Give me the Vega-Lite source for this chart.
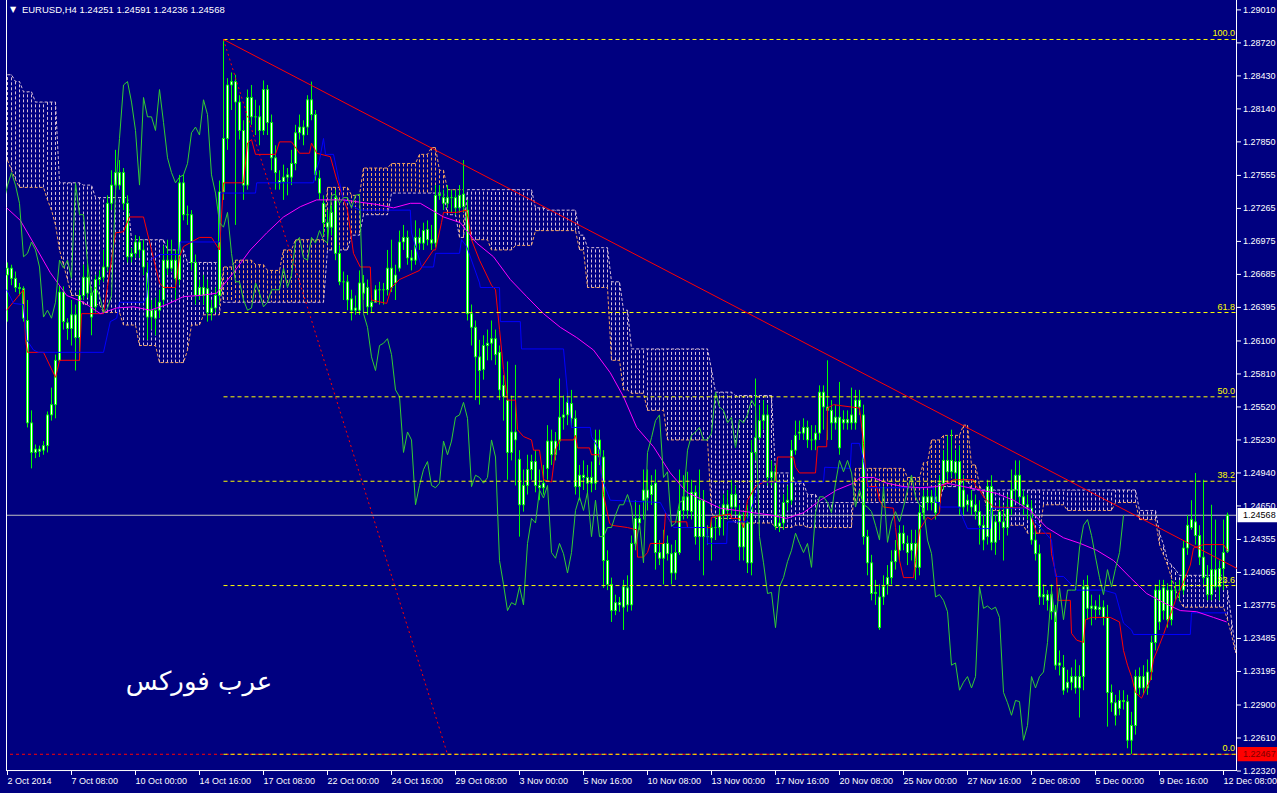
{
"$schema":"https://vega.github.io/schema/vega-lite/v6.json",
"width":1231,"height":771,
"autosize":{"type":"none"},
"padding":{"left":6,"top":0,"right":40,"bottom":22},
"background":"#000080",
"config":{"view":{"stroke":null},"font":"Liberation Sans"},
"datasets":{
"bars":[
{"k":1,"o":1.2668,"h":1.2679,"l":1.2627,"c":1.2674},
{"k":2,"o":1.2674,"h":1.2677,"l":1.2659,"c":1.2665},
{"k":3,"o":1.2665,"h":1.2671,"l":1.2653,"c":1.2657},
{"k":4,"o":1.2657,"h":1.2661,"l":1.2650,"c":1.2656},
{"k":5,"o":1.2656,"h":1.2658,"l":1.2627,"c":1.2630},
{"k":6,"o":1.2628,"h":1.2646,"l":1.2534,"c":1.2538},
{"k":7,"o":1.2538,"h":1.2549,"l":1.2498,"c":1.2512},
{"k":8,"o":1.2512,"h":1.2519,"l":1.2507,"c":1.2515},
{"k":9,"o":1.2515,"h":1.2518,"l":1.2508,"c":1.2513},
{"k":10,"o":1.2514,"h":1.2522,"l":1.2510,"c":1.2518},
{"k":11,"o":1.2518,"h":1.2548,"l":1.2512,"c":1.2545},
{"k":12,"o":1.2545,"h":1.2569,"l":1.2540,"c":1.2554},
{"k":13,"o":1.2554,"h":1.2598,"l":1.2542,"c":1.2593},
{"k":14,"o":1.2593,"h":1.2659,"l":1.2592,"c":1.2653},
{"k":15,"o":1.2653,"h":1.2658,"l":1.2620,"c":1.2627},
{"k":16,"o":1.2626,"h":1.2630,"l":1.2611,"c":1.2621},
{"k":17,"o":1.2621,"h":1.2646,"l":1.2606,"c":1.2633},
{"k":18,"o":1.2633,"h":1.2642,"l":1.2584,"c":1.2613},
{"k":19,"o":1.2613,"h":1.2655,"l":1.2593,"c":1.2650},
{"k":20,"o":1.2650,"h":1.2677,"l":1.2646,"c":1.2666},
{"k":21,"o":1.2666,"h":1.2679,"l":1.2648,"c":1.2652},
{"k":22,"o":1.2652,"h":1.2657,"l":1.2615,"c":1.2631},
{"k":23,"o":1.2640,"h":1.2668,"l":1.2635,"c":1.2664},
{"k":24,"o":1.2664,"h":1.2672,"l":1.2659,"c":1.2666},
{"k":25,"o":1.2666,"h":1.2690,"l":1.2662,"c":1.2675},
{"k":26,"o":1.2675,"h":1.2738,"l":1.2671,"c":1.2731},
{"k":27,"o":1.2731,"h":1.2760,"l":1.2725,"c":1.2747},
{"k":28,"o":1.2747,"h":1.2778,"l":1.2743,"c":1.2758},
{"k":29,"o":1.2758,"h":1.2769,"l":1.2743,"c":1.2747},
{"k":30,"o":1.2758,"h":1.2762,"l":1.2725,"c":1.2731},
{"k":31,"o":1.2731,"h":1.2738,"l":1.2679,"c":1.2684},
{"k":32,"o":1.2684,"h":1.2692,"l":1.2679,"c":1.2687},
{"k":33,"o":1.2687,"h":1.2703,"l":1.2683,"c":1.2697},
{"k":34,"o":1.2697,"h":1.2702,"l":1.2683,"c":1.2690},
{"k":35,"o":1.2690,"h":1.2699,"l":1.2668,"c":1.2675},
{"k":36,"o":1.2670,"h":1.2679,"l":1.2611,"c":1.2631},
{"k":37,"o":1.2631,"h":1.2646,"l":1.2620,"c":1.2637},
{"k":38,"o":1.2637,"h":1.2648,"l":1.2615,"c":1.2630},
{"k":39,"o":1.2637,"h":1.2655,"l":1.2630,"c":1.2644},
{"k":40,"o":1.2646,"h":1.2694,"l":1.2642,"c":1.2681},
{"k":41,"o":1.2681,"h":1.2699,"l":1.2668,"c":1.2674},
{"k":42,"o":1.2674,"h":1.2699,"l":1.2671,"c":1.2681},
{"k":43,"o":1.2681,"h":1.2690,"l":1.2646,"c":1.2665},
{"k":44,"o":1.2664,"h":1.2756,"l":1.2659,"c":1.2749},
{"k":45,"o":1.2749,"h":1.2756,"l":1.2716,"c":1.2721},
{"k":46,"o":1.2721,"h":1.2729,"l":1.2712,"c":1.2721},
{"k":47,"o":1.2721,"h":1.2725,"l":1.2672,"c":1.2679},
{"k":48,"o":1.2679,"h":1.2686,"l":1.2642,"c":1.2650},
{"k":49,"o":1.2650,"h":1.2664,"l":1.2646,"c":1.2657},
{"k":50,"o":1.2657,"h":1.2668,"l":1.2642,"c":1.2650},
{"k":51,"o":1.2656,"h":1.2664,"l":1.2627,"c":1.2635},
{"k":52,"o":1.2635,"h":1.2646,"l":1.2628,"c":1.2639},
{"k":53,"o":1.2639,"h":1.2657,"l":1.2635,"c":1.2650},
{"k":54,"o":1.2650,"h":1.2751,"l":1.2642,"c":1.2741},
{"k":55,"o":1.2741,"h":1.2875,"l":1.2734,"c":1.2788},
{"k":56,"o":1.2788,"h":1.2841,"l":1.2778,"c":1.2835},
{"k":57,"o":1.2835,"h":1.2846,"l":1.2813,"c":1.2838},
{"k":58,"o":1.2838,"h":1.2844,"l":1.2712,"c":1.2820},
{"k":59,"o":1.2820,"h":1.2826,"l":1.2787,"c":1.2795},
{"k":60,"o":1.2795,"h":1.2804,"l":1.2734,"c":1.2747},
{"k":61,"o":1.2747,"h":1.2831,"l":1.2743,"c":1.2824},
{"k":62,"o":1.2824,"h":1.2835,"l":1.2800,"c":1.2807},
{"k":63,"o":1.2807,"h":1.2822,"l":1.2791,"c":1.2807},
{"k":64,"o":1.2807,"h":1.2817,"l":1.2782,"c":1.2795},
{"k":65,"o":1.2795,"h":1.2839,"l":1.2791,"c":1.2831},
{"k":66,"o":1.2831,"h":1.2835,"l":1.2791,"c":1.2802},
{"k":67,"o":1.2802,"h":1.2809,"l":1.2760,"c":1.2771},
{"k":68,"o":1.2771,"h":1.2782,"l":1.2743,"c":1.2758},
{"k":69,"o":1.2751,"h":1.2760,"l":1.2743,"c":1.2749},
{"k":70,"o":1.2750,"h":1.2765,"l":1.2734,"c":1.2754},
{"k":71,"o":1.2754,"h":1.2762,"l":1.2738,"c":1.2756},
{"k":72,"o":1.2754,"h":1.2778,"l":1.2747,"c":1.2766},
{"k":73,"o":1.2766,"h":1.2800,"l":1.2760,"c":1.2793},
{"k":74,"o":1.2793,"h":1.2809,"l":1.2787,"c":1.2798},
{"k":75,"o":1.2798,"h":1.2804,"l":1.2782,"c":1.2791},
{"k":76,"o":1.2798,"h":1.2826,"l":1.2791,"c":1.2822},
{"k":77,"o":1.2822,"h":1.2838,"l":1.2804,"c":1.2809},
{"k":78,"o":1.2809,"h":1.2813,"l":1.2751,"c":1.2756},
{"k":79,"o":1.2753,"h":1.2760,"l":1.2734,"c":1.2740},
{"k":80,"o":1.2731,"h":1.2738,"l":1.2703,"c":1.2714},
{"k":81,"o":1.2714,"h":1.2725,"l":1.2699,"c":1.2710},
{"k":82,"o":1.2710,"h":1.2729,"l":1.2703,"c":1.2723},
{"k":83,"o":1.2736,"h":1.2743,"l":1.2681,"c":1.2687},
{"k":84,"o":1.2687,"h":1.2694,"l":1.2659,"c":1.2662},
{"k":85,"o":1.2662,"h":1.2671,"l":1.2646,"c":1.2662},
{"k":86,"o":1.2662,"h":1.2668,"l":1.2637,"c":1.2646},
{"k":87,"o":1.2647,"h":1.2655,"l":1.2628,"c":1.2637},
{"k":88,"o":1.2637,"h":1.2650,"l":1.2633,"c":1.2639},
{"k":89,"o":1.2637,"h":1.2672,"l":1.2633,"c":1.2661},
{"k":90,"o":1.2661,"h":1.2668,"l":1.2646,"c":1.2652},
{"k":91,"o":1.2657,"h":1.2664,"l":1.2633,"c":1.2640},
{"k":92,"o":1.2640,"h":1.2650,"l":1.2635,"c":1.2644},
{"k":93,"o":1.2644,"h":1.2659,"l":1.2646,"c":1.2655},
{"k":94,"o":1.2655,"h":1.2662,"l":1.2642,"c":1.2655},
{"k":95,"o":1.2655,"h":1.2661,"l":1.2642,"c":1.2655},
{"k":96,"o":1.2655,"h":1.2690,"l":1.2650,"c":1.2674},
{"k":97,"o":1.2674,"h":1.2699,"l":1.2653,"c":1.2657},
{"k":98,"o":1.2661,"h":1.2677,"l":1.2646,"c":1.2668},
{"k":99,"o":1.2674,"h":1.2707,"l":1.2671,"c":1.2697},
{"k":100,"o":1.2697,"h":1.2712,"l":1.2690,"c":1.2701},
{"k":101,"o":1.2701,"h":1.2707,"l":1.2677,"c":1.2683},
{"k":102,"o":1.2683,"h":1.2690,"l":1.2672,"c":1.2681},
{"k":103,"o":1.2681,"h":1.2716,"l":1.2677,"c":1.2701},
{"k":104,"o":1.2701,"h":1.2709,"l":1.2690,"c":1.2696},
{"k":105,"o":1.2696,"h":1.2714,"l":1.2690,"c":1.2707},
{"k":106,"o":1.2708,"h":1.2716,"l":1.2694,"c":1.2699},
{"k":107,"o":1.2699,"h":1.2712,"l":1.2690,"c":1.2696},
{"k":108,"o":1.2696,"h":1.2747,"l":1.2692,"c":1.2738},
{"k":109,"o":1.2738,"h":1.2747,"l":1.2734,"c":1.2739},
{"k":110,"o":1.2736,"h":1.2743,"l":1.2725,"c":1.2731},
{"k":111,"o":1.2731,"h":1.2747,"l":1.2727,"c":1.2736},
{"k":112,"o":1.2736,"h":1.2743,"l":1.2723,"c":1.2736},
{"k":113,"o":1.2736,"h":1.2743,"l":1.2721,"c":1.2727},
{"k":114,"o":1.2727,"h":1.2747,"l":1.2723,"c":1.2738},
{"k":115,"o":1.2728,"h":1.2769,"l":1.2723,"c":1.2739},
{"k":116,"o":1.2725,"h":1.2734,"l":1.2628,"c":1.2634},
{"k":117,"o":1.2634,"h":1.2642,"l":1.2606,"c":1.2622},
{"k":118,"o":1.2622,"h":1.2628,"l":1.2558,"c":1.2596},
{"k":119,"o":1.2596,"h":1.2611,"l":1.2554,"c":1.2584},
{"k":120,"o":1.2585,"h":1.2615,"l":1.2576,"c":1.2606},
{"k":121,"o":1.2606,"h":1.2620,"l":1.2593,"c":1.2608},
{"k":122,"o":1.2608,"h":1.2628,"l":1.2593,"c":1.2612},
{"k":123,"o":1.2612,"h":1.2620,"l":1.2589,"c":1.2598},
{"k":124,"o":1.2600,"h":1.2606,"l":1.2558,"c":1.2567},
{"k":125,"o":1.2571,"h":1.2580,"l":1.2540,"c":1.2561},
{"k":126,"o":1.2558,"h":1.2592,"l":1.2488,"c":1.2512},
{"k":127,"o":1.2512,"h":1.2562,"l":1.2505,"c":1.2530},
{"k":128,"o":1.2530,"h":1.2589,"l":1.2483,"c":1.2523},
{"k":129,"o":1.2506,"h":1.2514,"l":1.2438,"c":1.2466},
{"k":130,"o":1.2466,"h":1.2497,"l":1.2460,"c":1.2483},
{"k":131,"o":1.2483,"h":1.2510,"l":1.2475,"c":1.2497},
{"k":132,"o":1.2497,"h":1.2510,"l":1.2488,"c":1.2504},
{"k":133,"o":1.2504,"h":1.2514,"l":1.2477,"c":1.2483},
{"k":134,"o":1.2483,"h":1.2497,"l":1.2470,"c":1.2481},
{"k":135,"o":1.2481,"h":1.2501,"l":1.2475,"c":1.2485},
{"k":136,"o":1.2498,"h":1.2536,"l":1.2488,"c":1.2522},
{"k":137,"o":1.2522,"h":1.2532,"l":1.2501,"c":1.2510},
{"k":138,"o":1.2510,"h":1.2530,"l":1.2505,"c":1.2522},
{"k":139,"o":1.2522,"h":1.2577,"l":1.2514,"c":1.2543},
{"k":140,"o":1.2543,"h":1.2562,"l":1.2532,"c":1.2545},
{"k":141,"o":1.2545,"h":1.2565,"l":1.2536,"c":1.2556},
{"k":142,"o":1.2555,"h":1.2567,"l":1.2534,"c":1.2542},
{"k":143,"o":1.2542,"h":1.2549,"l":1.2475,"c":1.2482},
{"k":144,"o":1.2482,"h":1.2501,"l":1.2470,"c":1.2492},
{"k":145,"o":1.2492,"h":1.2505,"l":1.2479,"c":1.2490},
{"k":146,"o":1.2490,"h":1.2501,"l":1.2475,"c":1.2485},
{"k":147,"o":1.2485,"h":1.2504,"l":1.2477,"c":1.2490},
{"k":148,"o":1.2485,"h":1.2532,"l":1.2479,"c":1.2523},
{"k":149,"o":1.2523,"h":1.2532,"l":1.2501,"c":1.2508},
{"k":150,"o":1.2508,"h":1.2514,"l":1.2393,"c":1.2417},
{"k":151,"o":1.2417,"h":1.2426,"l":1.2391,"c":1.2396},
{"k":152,"o":1.2396,"h":1.2402,"l":1.2363,"c":1.2373},
{"k":153,"o":1.2373,"h":1.2387,"l":1.2369,"c":1.2380},
{"k":154,"o":1.2380,"h":1.2385,"l":1.2372,"c":1.2378},
{"k":155,"o":1.2376,"h":1.2400,"l":1.2356,"c":1.2394},
{"k":156,"o":1.2393,"h":1.2404,"l":1.2372,"c":1.2378},
{"k":157,"o":1.2378,"h":1.2439,"l":1.2373,"c":1.2432},
{"k":158,"o":1.2432,"h":1.2470,"l":1.2426,"c":1.2454},
{"k":159,"o":1.2454,"h":1.2466,"l":1.2444,"c":1.2450},
{"k":160,"o":1.2470,"h":1.2497,"l":1.2453,"c":1.2479},
{"k":161,"o":1.2479,"h":1.2497,"l":1.2461,"c":1.2472},
{"k":162,"o":1.2475,"h":1.2492,"l":1.2466,"c":1.2483},
{"k":163,"o":1.2485,"h":1.2497,"l":1.2409,"c":1.2424},
{"k":164,"o":1.2424,"h":1.2435,"l":1.2413,"c":1.2419},
{"k":165,"o":1.2419,"h":1.2444,"l":1.2396,"c":1.2432},
{"k":166,"o":1.2432,"h":1.2439,"l":1.2417,"c":1.2423},
{"k":167,"o":1.2423,"h":1.2431,"l":1.2396,"c":1.2406},
{"k":168,"o":1.2406,"h":1.2435,"l":1.2400,"c":1.2424},
{"k":169,"o":1.2424,"h":1.2497,"l":1.2422,"c":1.2461},
{"k":170,"o":1.2461,"h":1.2492,"l":1.2453,"c":1.2473},
{"k":171,"o":1.2473,"h":1.2495,"l":1.2454,"c":1.2461},
{"k":172,"o":1.2460,"h":1.2488,"l":1.2453,"c":1.2477},
{"k":173,"o":1.2477,"h":1.2483,"l":1.2431,"c":1.2438},
{"k":174,"o":1.2438,"h":1.2497,"l":1.2417,"c":1.2470},
{"k":175,"o":1.2470,"h":1.2479,"l":1.2404,"c":1.2438},
{"k":176,"o":1.2438,"h":1.2448,"l":1.2431,"c":1.2438},
{"k":177,"o":1.2437,"h":1.2453,"l":1.2417,"c":1.2446},
{"k":178,"o":1.2446,"h":1.2457,"l":1.2435,"c":1.2446},
{"k":179,"o":1.2446,"h":1.2466,"l":1.2439,"c":1.2457},
{"k":180,"o":1.2457,"h":1.2475,"l":1.2439,"c":1.2466},
{"k":181,"o":1.2461,"h":1.2479,"l":1.2453,"c":1.2466},
{"k":182,"o":1.2464,"h":1.2488,"l":1.2457,"c":1.2475},
{"k":183,"o":1.2475,"h":1.2483,"l":1.2457,"c":1.2464},
{"k":184,"o":1.2457,"h":1.2466,"l":1.2417,"c":1.2429},
{"k":185,"o":1.2429,"h":1.2461,"l":1.2417,"c":1.2450},
{"k":186,"o":1.2450,"h":1.2466,"l":1.2406,"c":1.2415},
{"k":187,"o":1.2415,"h":1.2523,"l":1.2404,"c":1.2512},
{"k":188,"o":1.2512,"h":1.2577,"l":1.2505,"c":1.2525},
{"k":189,"o":1.2525,"h":1.2554,"l":1.2523,"c":1.2540},
{"k":190,"o":1.2540,"h":1.2558,"l":1.2532,"c":1.2545},
{"k":191,"o":1.2545,"h":1.2554,"l":1.2483,"c":1.2490},
{"k":192,"o":1.2490,"h":1.2505,"l":1.2483,"c":1.2495},
{"k":193,"o":1.2495,"h":1.2501,"l":1.2444,"c":1.2447},
{"k":194,"o":1.2447,"h":1.2457,"l":1.2442,"c":1.2450},
{"k":195,"o":1.2450,"h":1.2475,"l":1.2444,"c":1.2468},
{"k":196,"o":1.2468,"h":1.2483,"l":1.2461,"c":1.2470},
{"k":197,"o":1.2470,"h":1.2523,"l":1.2466,"c":1.2514},
{"k":198,"o":1.2514,"h":1.2540,"l":1.2510,"c":1.2527},
{"k":199,"o":1.2529,"h":1.2540,"l":1.2523,"c":1.2530},
{"k":200,"o":1.2529,"h":1.2542,"l":1.2523,"c":1.2534},
{"k":201,"o":1.2534,"h":1.2540,"l":1.2516,"c":1.2523},
{"k":202,"o":1.2523,"h":1.2536,"l":1.2514,"c":1.2523},
{"k":203,"o":1.2523,"h":1.2536,"l":1.2514,"c":1.2529},
{"k":204,"o":1.2529,"h":1.2571,"l":1.2523,"c":1.2565},
{"k":205,"o":1.2565,"h":1.2571,"l":1.2532,"c":1.2552},
{"k":206,"o":1.2552,"h":1.2593,"l":1.2523,"c":1.2549},
{"k":207,"o":1.2549,"h":1.2558,"l":1.2523,"c":1.2538},
{"k":208,"o":1.2538,"h":1.2554,"l":1.2532,"c":1.2543},
{"k":209,"o":1.2543,"h":1.2574,"l":1.2510,"c":1.2516},
{"k":210,"o":1.2538,"h":1.2549,"l":1.2532,"c":1.2541},
{"k":211,"o":1.2541,"h":1.2549,"l":1.2532,"c":1.2538},
{"k":212,"o":1.2538,"h":1.2569,"l":1.2532,"c":1.2545},
{"k":213,"o":1.2538,"h":1.2567,"l":1.2532,"c":1.2558},
{"k":214,"o":1.2558,"h":1.2567,"l":1.2545,"c":1.2552},
{"k":215,"o":1.2545,"h":1.2554,"l":1.2431,"c":1.2438},
{"k":216,"o":1.2438,"h":1.2444,"l":1.2404,"c":1.2415},
{"k":217,"o":1.2415,"h":1.2422,"l":1.2382,"c":1.2388},
{"k":218,"o":1.2388,"h":1.2400,"l":1.2378,"c":1.2389},
{"k":219,"o":1.2385,"h":1.2396,"l":1.2356,"c":1.2358},
{"k":220,"o":1.2385,"h":1.2404,"l":1.2378,"c":1.2394},
{"k":221,"o":1.2396,"h":1.2413,"l":1.2387,"c":1.2402},
{"k":222,"o":1.2402,"h":1.2426,"l":1.2396,"c":1.2416},
{"k":223,"o":1.2416,"h":1.2435,"l":1.2409,"c":1.2426},
{"k":224,"o":1.2426,"h":1.2448,"l":1.2417,"c":1.2441},
{"k":225,"o":1.2441,"h":1.2448,"l":1.2426,"c":1.2432},
{"k":226,"o":1.2432,"h":1.2439,"l":1.2413,"c":1.2424},
{"k":227,"o":1.2426,"h":1.2444,"l":1.2417,"c":1.2432},
{"k":228,"o":1.2432,"h":1.2444,"l":1.2400,"c":1.2411},
{"k":229,"o":1.2411,"h":1.2466,"l":1.2404,"c":1.2459},
{"k":230,"o":1.2459,"h":1.2479,"l":1.2453,"c":1.2473},
{"k":231,"o":1.2468,"h":1.2479,"l":1.2461,"c":1.2473},
{"k":232,"o":1.2473,"h":1.2479,"l":1.2461,"c":1.2468},
{"k":233,"o":1.2473,"h":1.2481,"l":1.2453,"c":1.2459},
{"k":234,"o":1.2468,"h":1.2492,"l":1.2461,"c":1.2485},
{"k":235,"o":1.2485,"h":1.2514,"l":1.2479,"c":1.2505},
{"k":236,"o":1.2505,"h":1.2527,"l":1.2488,"c":1.2495},
{"k":237,"o":1.2495,"h":1.2532,"l":1.2490,"c":1.2505},
{"k":238,"o":1.2504,"h":1.2514,"l":1.2488,"c":1.2494},
{"k":239,"o":1.2504,"h":1.2518,"l":1.2457,"c":1.2464},
{"k":240,"o":1.2464,"h":1.2492,"l":1.2457,"c":1.2479},
{"k":241,"o":1.2470,"h":1.2475,"l":1.2460,"c":1.2466},
{"k":242,"o":1.2470,"h":1.2479,"l":1.2457,"c":1.2464},
{"k":243,"o":1.2466,"h":1.2475,"l":1.2453,"c":1.2460},
{"k":244,"o":1.2460,"h":1.2470,"l":1.2431,"c":1.2448},
{"k":245,"o":1.2448,"h":1.2457,"l":1.2426,"c":1.2435},
{"k":246,"o":1.2438,"h":1.2488,"l":1.2431,"c":1.2482},
{"k":247,"o":1.2482,"h":1.2492,"l":1.2426,"c":1.2433},
{"k":248,"o":1.2433,"h":1.2457,"l":1.2422,"c":1.2451},
{"k":249,"o":1.2451,"h":1.2470,"l":1.2435,"c":1.2460},
{"k":250,"o":1.2446,"h":1.2466,"l":1.2417,"c":1.2451},
{"k":251,"o":1.2446,"h":1.2475,"l":1.2439,"c":1.2464},
{"k":252,"o":1.2464,"h":1.2497,"l":1.2457,"c":1.2479},
{"k":253,"o":1.2479,"h":1.2505,"l":1.2470,"c":1.2492},
{"k":254,"o":1.2492,"h":1.2505,"l":1.2466,"c":1.2473},
{"k":255,"o":1.2473,"h":1.2479,"l":1.2457,"c":1.2466},
{"k":256,"o":1.2466,"h":1.2475,"l":1.2453,"c":1.2463},
{"k":257,"o":1.2463,"h":1.2470,"l":1.2431,"c":1.2435},
{"k":258,"o":1.2435,"h":1.2444,"l":1.2417,"c":1.2423},
{"k":259,"o":1.2423,"h":1.2431,"l":1.2378,"c":1.2385},
{"k":260,"o":1.2385,"h":1.2396,"l":1.2378,"c":1.2387},
{"k":261,"o":1.2387,"h":1.2391,"l":1.2373,"c":1.2382},
{"k":262,"o":1.2387,"h":1.2396,"l":1.2365,"c":1.2372},
{"k":263,"o":1.2372,"h":1.2378,"l":1.2321,"c":1.2325},
{"k":264,"o":1.2325,"h":1.2338,"l":1.2316,"c":1.2327},
{"k":265,"o":1.2323,"h":1.2334,"l":1.2299,"c":1.2303},
{"k":266,"o":1.2305,"h":1.2321,"l":1.2301,"c":1.2310},
{"k":267,"o":1.2310,"h":1.2323,"l":1.2303,"c":1.2315},
{"k":268,"o":1.2315,"h":1.2330,"l":1.2300,"c":1.2305},
{"k":269,"o":1.2305,"h":1.2325,"l":1.2279,"c":1.2315},
{"k":270,"o":1.2315,"h":1.2400,"l":1.2303,"c":1.2394},
{"k":271,"o":1.2394,"h":1.2404,"l":1.2365,"c":1.2375},
{"k":272,"o":1.2375,"h":1.2387,"l":1.2360,"c":1.2377},
{"k":273,"o":1.2377,"h":1.2382,"l":1.2365,"c":1.2374},
{"k":274,"o":1.2374,"h":1.2387,"l":1.2369,"c":1.2376},
{"k":275,"o":1.2376,"h":1.2382,"l":1.2360,"c":1.2367},
{"k":276,"o":1.2367,"h":1.2378,"l":1.2271,"c":1.2301},
{"k":277,"o":1.2301,"h":1.2308,"l":1.2284,"c":1.2292},
{"k":278,"o":1.2292,"h":1.2299,"l":1.2272,"c":1.2281},
{"k":279,"o":1.2287,"h":1.2303,"l":1.2281,"c":1.2294},
{"k":280,"o":1.2294,"h":1.2303,"l":1.2286,"c":1.2293},
{"k":281,"o":1.2293,"h":1.2299,"l":1.2252,"c":1.2259},
{"k":282,"o":1.2259,"h":1.2284,"l":1.2247,"c":1.2272},
{"k":283,"o":1.2272,"h":1.2321,"l":1.2264,"c":1.2315},
{"k":284,"o":1.2315,"h":1.2323,"l":1.2299,"c":1.2305},
{"k":285,"o":1.2305,"h":1.2325,"l":1.2299,"c":1.2315},
{"k":286,"o":1.2305,"h":1.2330,"l":1.2299,"c":1.2319},
{"k":287,"o":1.2319,"h":1.2351,"l":1.2312,"c":1.2345},
{"k":288,"o":1.2345,"h":1.2396,"l":1.2338,"c":1.2391},
{"k":289,"o":1.2391,"h":1.2400,"l":1.2356,"c":1.2363},
{"k":290,"o":1.2373,"h":1.2400,"l":1.2365,"c":1.2393},
{"k":291,"o":1.2391,"h":1.2397,"l":1.2358,"c":1.2365},
{"k":292,"o":1.2365,"h":1.2400,"l":1.2360,"c":1.2391},
{"k":293,"o":1.2391,"h":1.2398,"l":1.2382,"c":1.2391},
{"k":294,"o":1.2391,"h":1.2400,"l":1.2382,"c":1.2391},
{"k":295,"o":1.2391,"h":1.2435,"l":1.2387,"c":1.2428},
{"k":296,"o":1.2428,"h":1.2457,"l":1.2422,"c":1.2448},
{"k":297,"o":1.2446,"h":1.2470,"l":1.2444,"c":1.2453},
{"k":298,"o":1.2451,"h":1.2494,"l":1.2431,"c":1.2439},
{"k":299,"o":1.2439,"h":1.2448,"l":1.2413,"c":1.2420},
{"k":300,"o":1.2420,"h":1.2488,"l":1.2396,"c":1.2402},
{"k":301,"o":1.2402,"h":1.2413,"l":1.2382,"c":1.2387},
{"k":302,"o":1.2387,"h":1.2466,"l":1.2382,"c":1.2409},
{"k":303,"o":1.2409,"h":1.2453,"l":1.2391,"c":1.2394},
{"k":304,"o":1.2394,"h":1.2417,"l":1.2382,"c":1.2410},
{"k":305,"o":1.2410,"h":1.2453,"l":1.2391,"c":1.2424},
{"k":306,"o":1.24251,"h":1.24591,"l":1.24236,"c":1.24568}
],
"kumo":[
{"k":1,"a":1.2769,"b":1.2844},{"k":2,"a":1.2760,"b":1.2844},{"k":3,"a":1.2752,"b":1.2838},{"k":4,"a":1.2745,"b":1.2838},
{"k":5,"a":1.2745,"b":1.2829},{"k":6,"a":1.2745,"b":1.2829},{"k":7,"a":1.2745,"b":1.2829},{"k":8,"a":1.2745,"b":1.2820},
{"k":9,"a":1.2745,"b":1.2820},{"k":10,"a":1.2745,"b":1.2820},{"k":11,"a":1.2734,"b":1.2820},{"k":12,"a":1.2725,"b":1.2820},
{"k":13,"a":1.2712,"b":1.2820},{"k":14,"a":1.2690,"b":1.2749},{"k":15,"a":1.2677,"b":1.2749},{"k":16,"a":1.2664,"b":1.2749},
{"k":17,"a":1.2650,"b":1.2749},{"k":18,"a":1.2650,"b":1.2749},{"k":19,"a":1.2650,"b":1.2749},{"k":20,"a":1.2642,"b":1.2747},
{"k":21,"a":1.2642,"b":1.2747},{"k":22,"a":1.2642,"b":1.2747},{"k":23,"a":1.2642,"b":1.2736},{"k":24,"a":1.2642,"b":1.2736},
{"k":25,"a":1.2635,"b":1.2736},{"k":26,"a":1.2635,"b":1.2736},{"k":27,"a":1.2635,"b":1.2736},{"k":28,"a":1.2635,"b":1.2736},
{"k":29,"a":1.2635,"b":1.2736},{"k":30,"a":1.2624,"b":1.2736},{"k":31,"a":1.2624,"b":1.2736},{"k":32,"a":1.2624,"b":1.2699},
{"k":33,"a":1.2624,"b":1.2699},{"k":34,"a":1.2606,"b":1.2699},{"k":35,"a":1.2606,"b":1.2699},{"k":36,"a":1.2606,"b":1.2699},
{"k":37,"a":1.2606,"b":1.2699},{"k":38,"a":1.2606,"b":1.2699},{"k":39,"a":1.2591,"b":1.2699},{"k":40,"a":1.2591,"b":1.2699},
{"k":41,"a":1.2591,"b":1.2690},{"k":42,"a":1.2591,"b":1.2690},{"k":43,"a":1.2591,"b":1.2690},{"k":44,"a":1.2591,"b":1.2690},
{"k":45,"a":1.2591,"b":1.2690},{"k":46,"a":1.2602,"b":1.2679},{"k":47,"a":1.2624,"b":1.2679},{"k":48,"a":1.2624,"b":1.2679},
{"k":49,"a":1.2624,"b":1.2679},{"k":50,"a":1.2633,"b":1.2679},{"k":51,"a":1.2633,"b":1.2679},{"k":52,"a":1.2633,"b":1.2679},
{"k":53,"a":1.2633,"b":1.2679},{"k":54,"a":1.2633,"b":1.2679},{"k":55,"a":1.2675,"b":1.2644},{"k":56,"a":1.2675,"b":1.2644},
{"k":57,"a":1.2675,"b":1.2644},{"k":58,"a":1.2681,"b":1.2644},{"k":59,"a":1.2681,"b":1.2644},{"k":60,"a":1.2681,"b":1.2644},
{"k":61,"a":1.2681,"b":1.2644},{"k":62,"a":1.2681,"b":1.2644},{"k":63,"a":1.2677,"b":1.2644},{"k":64,"a":1.2677,"b":1.2644},
{"k":65,"a":1.2677,"b":1.2644},{"k":66,"a":1.2672,"b":1.2644},{"k":67,"a":1.2672,"b":1.2644},{"k":68,"a":1.2672,"b":1.2644},
{"k":69,"a":1.2672,"b":1.2644},{"k":70,"a":1.2690,"b":1.2644},{"k":71,"a":1.2690,"b":1.2644},{"k":72,"a":1.2690,"b":1.2644},
{"k":73,"a":1.2699,"b":1.2644},{"k":74,"a":1.2699,"b":1.2644},{"k":75,"a":1.2699,"b":1.2644},{"k":76,"a":1.2699,"b":1.2644},
{"k":77,"a":1.2699,"b":1.2644},{"k":78,"a":1.2699,"b":1.2644},{"k":79,"a":1.2699,"b":1.2644},{"k":80,"a":1.2699,"b":1.2644},
{"k":81,"a":1.2745,"b":1.2690},{"k":82,"a":1.2745,"b":1.2690},{"k":83,"a":1.2745,"b":1.2690},{"k":84,"a":1.2745,"b":1.2690},
{"k":85,"a":1.2745,"b":1.2690},{"k":86,"a":1.2745,"b":1.2690},{"k":87,"a":1.2738,"b":1.2703},{"k":88,"a":1.2738,"b":1.2703},
{"k":89,"a":1.2738,"b":1.2703},{"k":90,"a":1.2762,"b":1.2721},{"k":91,"a":1.2762,"b":1.2721},{"k":92,"a":1.2762,"b":1.2721},
{"k":93,"a":1.2762,"b":1.2721},{"k":94,"a":1.2762,"b":1.2721},{"k":95,"a":1.2762,"b":1.2721},{"k":96,"a":1.2762,"b":1.2721},
{"k":97,"a":1.2766,"b":1.2740},{"k":98,"a":1.2766,"b":1.2740},{"k":99,"a":1.2766,"b":1.2740},{"k":100,"a":1.2766,"b":1.2740},
{"k":101,"a":1.2766,"b":1.2740},{"k":102,"a":1.2766,"b":1.2740},{"k":103,"a":1.2766,"b":1.2740},{"k":104,"a":1.2774,"b":1.2740},
{"k":105,"a":1.2774,"b":1.2740},{"k":106,"a":1.2774,"b":1.2740},{"k":107,"a":1.2780,"b":1.2740},{"k":108,"a":1.2780,"b":1.2740},
{"k":109,"a":1.2760,"b":1.2740},{"k":110,"a":1.2760,"b":1.2740},{"k":111,"a":1.2743,"b":1.2721},{"k":112,"a":1.2743,"b":1.2721},
{"k":113,"a":1.2743,"b":1.2721},{"k":114,"a":1.2743,"b":1.2701},{"k":115,"a":1.2743,"b":1.2701},{"k":116,"a":1.2699,"b":1.2743},
{"k":117,"a":1.2699,"b":1.2743},{"k":118,"a":1.2699,"b":1.2743},{"k":119,"a":1.2699,"b":1.2743},{"k":120,"a":1.2699,"b":1.2743},
{"k":121,"a":1.2699,"b":1.2743},{"k":122,"a":1.2690,"b":1.2743},{"k":123,"a":1.2690,"b":1.2743},{"k":124,"a":1.2690,"b":1.2743},
{"k":125,"a":1.2690,"b":1.2743},{"k":126,"a":1.2690,"b":1.2743},{"k":127,"a":1.2690,"b":1.2743},{"k":128,"a":1.2694,"b":1.2743},
{"k":129,"a":1.2694,"b":1.2743},{"k":130,"a":1.2694,"b":1.2743},{"k":131,"a":1.2694,"b":1.2743},{"k":132,"a":1.2694,"b":1.2743},
{"k":133,"a":1.2707,"b":1.2727},{"k":134,"a":1.2707,"b":1.2727},{"k":135,"a":1.2707,"b":1.2727},{"k":136,"a":1.2707,"b":1.2725},
{"k":137,"a":1.2707,"b":1.2725},{"k":138,"a":1.2707,"b":1.2725},{"k":139,"a":1.2707,"b":1.2725},{"k":140,"a":1.2707,"b":1.2725},
{"k":141,"a":1.2707,"b":1.2725},{"k":142,"a":1.2707,"b":1.2725},{"k":143,"a":1.2707,"b":1.2725},{"k":144,"a":1.2690,"b":1.2703},
{"k":145,"a":1.2690,"b":1.2703},{"k":146,"a":1.2657,"b":1.2692},{"k":147,"a":1.2657,"b":1.2692},{"k":148,"a":1.2657,"b":1.2692},
{"k":149,"a":1.2657,"b":1.2692},{"k":150,"a":1.2657,"b":1.2692},{"k":151,"a":1.2657,"b":1.2692},{"k":152,"a":1.2593,"b":1.2662},
{"k":153,"a":1.2593,"b":1.2662},{"k":154,"a":1.2593,"b":1.2662},{"k":155,"a":1.2567,"b":1.2637},{"k":156,"a":1.2567,"b":1.2637},
{"k":157,"a":1.2564,"b":1.2603},{"k":158,"a":1.2564,"b":1.2603},{"k":159,"a":1.2564,"b":1.2603},{"k":160,"a":1.2564,"b":1.2603},
{"k":161,"a":1.2549,"b":1.2603},{"k":162,"a":1.2549,"b":1.2603},{"k":163,"a":1.2549,"b":1.2603},{"k":164,"a":1.2549,"b":1.2603},
{"k":165,"a":1.2549,"b":1.2603},{"k":166,"a":1.2523,"b":1.2603},{"k":167,"a":1.2523,"b":1.2603},{"k":168,"a":1.2523,"b":1.2603},
{"k":169,"a":1.2523,"b":1.2603},{"k":170,"a":1.2523,"b":1.2603},{"k":171,"a":1.2523,"b":1.2603},{"k":172,"a":1.2523,"b":1.2603},
{"k":173,"a":1.2523,"b":1.2603},{"k":174,"a":1.2523,"b":1.2603},{"k":175,"a":1.2523,"b":1.2603},{"k":176,"a":1.2523,"b":1.2603},
{"k":177,"a":1.2459,"b":1.2585},{"k":178,"a":1.2454,"b":1.2565},{"k":179,"a":1.2454,"b":1.2565},{"k":180,"a":1.2454,"b":1.2565},
{"k":181,"a":1.2454,"b":1.2565},{"k":182,"a":1.2454,"b":1.2565},{"k":183,"a":1.2450,"b":1.2562},{"k":184,"a":1.2450,"b":1.2562},
{"k":185,"a":1.2450,"b":1.2562},{"k":186,"a":1.2450,"b":1.2562},{"k":187,"a":1.2450,"b":1.2562},{"k":188,"a":1.2450,"b":1.2562},
{"k":189,"a":1.2450,"b":1.2562},{"k":190,"a":1.2450,"b":1.2562},{"k":191,"a":1.2450,"b":1.2562},{"k":192,"a":1.2450,"b":1.2562},
{"k":193,"a":1.2446,"b":1.2494},{"k":194,"a":1.2446,"b":1.2494},{"k":195,"a":1.2446,"b":1.2494},{"k":196,"a":1.2446,"b":1.2494},
{"k":197,"a":1.2446,"b":1.2494},{"k":198,"a":1.2448,"b":1.2485},{"k":199,"a":1.2448,"b":1.2485},{"k":200,"a":1.2448,"b":1.2485},
{"k":201,"a":1.2446,"b":1.2475},{"k":202,"a":1.2446,"b":1.2475},{"k":203,"a":1.2446,"b":1.2475},{"k":204,"a":1.2446,"b":1.2468},
{"k":205,"a":1.2446,"b":1.2468},{"k":206,"a":1.2446,"b":1.2468},{"k":207,"a":1.2446,"b":1.2468},{"k":208,"a":1.2446,"b":1.2468},
{"k":209,"a":1.2446,"b":1.2468},{"k":210,"a":1.2446,"b":1.2468},{"k":211,"a":1.2446,"b":1.2468},{"k":212,"a":1.2446,"b":1.2468},
{"k":213,"a":1.2498,"b":1.2468},{"k":214,"a":1.2498,"b":1.2468},{"k":215,"a":1.2498,"b":1.2468},{"k":216,"a":1.2498,"b":1.2468},
{"k":217,"a":1.2498,"b":1.2468},{"k":218,"a":1.2498,"b":1.2468},{"k":219,"a":1.2498,"b":1.2468},{"k":220,"a":1.2498,"b":1.2468},
{"k":221,"a":1.2498,"b":1.2468},{"k":222,"a":1.2498,"b":1.2468},{"k":223,"a":1.2498,"b":1.2468},{"k":224,"a":1.2498,"b":1.2468},
{"k":225,"a":1.2498,"b":1.2468},{"k":226,"a":1.2490,"b":1.2468},{"k":227,"a":1.2490,"b":1.2468},{"k":228,"a":1.2490,"b":1.2468},
{"k":229,"a":1.2490,"b":1.2468},{"k":230,"a":1.2503,"b":1.2468},{"k":231,"a":1.2503,"b":1.2468},{"k":232,"a":1.2523,"b":1.2468},
{"k":233,"a":1.2523,"b":1.2468},{"k":234,"a":1.2523,"b":1.2468},{"k":235,"a":1.2527,"b":1.2482},{"k":236,"a":1.2527,"b":1.2482},
{"k":237,"a":1.2527,"b":1.2482},{"k":238,"a":1.2527,"b":1.2482},{"k":239,"a":1.2527,"b":1.2482},{"k":240,"a":1.2536,"b":1.2488},
{"k":241,"a":1.2536,"b":1.2488},{"k":242,"a":1.2501,"b":1.2479},{"k":243,"a":1.2501,"b":1.2479},{"k":244,"a":1.2483,"b":1.2479},
{"k":245,"a":1.2475,"b":1.2479},{"k":246,"a":1.2461,"b":1.2479},{"k":247,"a":1.2461,"b":1.2479},{"k":248,"a":1.2461,"b":1.2479},
{"k":249,"a":1.2461,"b":1.2479},{"k":250,"a":1.2461,"b":1.2479},{"k":251,"a":1.2448,"b":1.2479},{"k":252,"a":1.2448,"b":1.2479},
{"k":253,"a":1.2448,"b":1.2479},{"k":254,"a":1.2448,"b":1.2479},{"k":255,"a":1.2448,"b":1.2479},{"k":256,"a":1.2441,"b":1.2479},
{"k":257,"a":1.2441,"b":1.2479},{"k":258,"a":1.2441,"b":1.2479},{"k":259,"a":1.2441,"b":1.2479},{"k":260,"a":1.2466,"b":1.2479},
{"k":261,"a":1.2466,"b":1.2479},{"k":262,"a":1.2466,"b":1.2479},{"k":263,"a":1.2466,"b":1.2479},{"k":264,"a":1.2466,"b":1.2479},
{"k":265,"a":1.2466,"b":1.2479},{"k":266,"a":1.2461,"b":1.2479},{"k":267,"a":1.2461,"b":1.2479},{"k":268,"a":1.2461,"b":1.2479},
{"k":269,"a":1.2461,"b":1.2479},{"k":270,"a":1.2461,"b":1.2479},{"k":271,"a":1.2461,"b":1.2479},{"k":272,"a":1.2461,"b":1.2479},
{"k":273,"a":1.2461,"b":1.2479},{"k":274,"a":1.2461,"b":1.2479},{"k":275,"a":1.2461,"b":1.2479},{"k":276,"a":1.2461,"b":1.2479},
{"k":277,"a":1.2461,"b":1.2479},{"k":278,"a":1.2468,"b":1.2479},{"k":279,"a":1.2468,"b":1.2479},{"k":280,"a":1.2468,"b":1.2479},
{"k":281,"a":1.2468,"b":1.2479},{"k":282,"a":1.2468,"b":1.2479},{"k":283,"a":1.2468,"b":1.2479},{"k":284,"a":1.2453,"b":1.2461},
{"k":285,"a":1.2453,"b":1.2461},{"k":286,"a":1.2453,"b":1.2461},{"k":287,"a":1.2453,"b":1.2461},{"k":288,"a":1.2453,"b":1.2461},
{"k":289,"a":1.2431,"b":1.2441},{"k":290,"a":1.2422,"b":1.2431},{"k":291,"a":1.2413,"b":1.2417},{"k":292,"a":1.2402,"b":1.2413},
{"k":293,"a":1.2391,"b":1.2409},{"k":294,"a":1.2382,"b":1.2404},{"k":295,"a":1.2376,"b":1.2404},{"k":296,"a":1.2376,"b":1.2404},
{"k":297,"a":1.2376,"b":1.2404},{"k":298,"a":1.2376,"b":1.2404},{"k":299,"a":1.2376,"b":1.2404},{"k":300,"a":1.2376,"b":1.2404},
{"k":301,"a":1.2376,"b":1.2404},{"k":302,"a":1.2376,"b":1.2404},{"k":303,"a":1.2376,"b":1.2404},{"k":304,"a":1.2376,"b":1.2404},
{"k":305,"a":1.2376,"b":1.2404},{"k":306,"a":1.2365,"b":1.2391},{"k":307,"a":1.2352,"b":1.2365},{"k":308,"a":1.2336,"b":1.2338}
],
"lines":[
{"s":"t","k":0.8,"v":1.2637},{"s":"t","k":5,"v":1.2655},{"s":"t","k":5.5,"v":1.2611},{"s":"t","k":6,"v":1.2600},{"s":"t","k":10,"v":1.2600},{"s":"t","k":13,"v":1.2578},{"s":"t","k":13.5,"v":1.2585},{"s":"t","k":14,"v":1.2593},{"s":"t","k":19,"v":1.2593},{"s":"t","k":19.5,"v":1.2634},{"s":"t","k":25,"v":1.2634},{"s":"t","k":28,"v":1.2705},{"s":"t","k":30,"v":1.2706},{"s":"t","k":31.5,"v":1.2719},{"s":"t","k":35,"v":1.2719},{"s":"t","k":37,"v":1.2690},{"s":"t","k":39,"v":1.2661},{"s":"t","k":40,"v":1.2657},{"s":"t","k":43,"v":1.2657},{"s":"t","k":44,"v":1.2684},{"s":"t","k":45,"v":1.2693},{"s":"t","k":49,"v":1.2701},{"s":"t","k":52,"v":1.2701},{"s":"t","k":54,"v":1.2690},{"s":"t","k":55,"v":1.2749},{"s":"t","k":60,"v":1.2749},{"s":"t","k":61,"v":1.2784},{"s":"t","k":62,"v":1.2787},{"s":"t","k":63,"v":1.2774},{"s":"t","k":68,"v":1.2774},{"s":"t","k":69,"v":1.2785},{"s":"t","k":72,"v":1.2785},{"s":"t","k":74,"v":1.2775},{"s":"t","k":76.5,"v":1.2775},{"s":"t","k":77,"v":1.2784},{"s":"t","k":78.3,"v":1.2775},{"s":"t","k":81.7,"v":1.2772},{"s":"t","k":83.3,"v":1.2752},{"s":"t","k":86,"v":1.2725},{"s":"t","k":87.5,"v":1.2687},{"s":"t","k":89.2,"v":1.2675},{"s":"t","k":91.7,"v":1.2675},{"s":"t","k":92,"v":1.2646},{"s":"t","k":95.8,"v":1.2643},{"s":"t","k":97,"v":1.2657},{"s":"t","k":99,"v":1.2664},{"s":"t","k":104,"v":1.2672},{"s":"t","k":107.5,"v":1.2690},{"s":"t","k":108,"v":1.2690},{"s":"t","k":109.5,"v":1.2714},{"s":"t","k":110,"v":1.2723},{"s":"t","k":113.3,"v":1.2723},{"s":"t","k":115.8,"v":1.2725},{"s":"t","k":117,"v":1.2699},{"s":"t","k":119,"v":1.2681},{"s":"t","k":122,"v":1.2659},{"s":"t","k":123,"v":1.2655},{"s":"t","k":124,"v":1.2620},{"s":"t","k":125,"v":1.2585},{"s":"t","k":126,"v":1.2558},{"s":"t","k":128,"v":1.2558},{"s":"t","k":128.5,"v":1.2532},{"s":"t","k":130,"v":1.2526},{"s":"t","k":132,"v":1.2523},{"s":"t","k":132.5,"v":1.2514},{"s":"t","k":134,"v":1.2514},{"s":"t","k":135,"v":1.2488},{"s":"t","k":137,"v":1.2486},{"s":"t","k":138,"v":1.2514},{"s":"t","k":139,"v":1.2523},{"s":"t","k":142.5,"v":1.2523},{"s":"t","k":143,"v":1.2527},{"s":"t","k":143.5,"v":1.2516},{"s":"t","k":146.5,"v":1.2516},{"s":"t","k":147,"v":1.2510},{"s":"t","k":149,"v":1.2510},{"s":"t","k":150,"v":1.2475},{"s":"t","k":151.5,"v":1.2450},{"s":"t","k":152,"v":1.2448},{"s":"t","k":156,"v":1.2446},{"s":"t","k":158.3,"v":1.2444},{"s":"t","k":158.5,"v":1.2420},{"s":"t","k":160,"v":1.2420},{"s":"t","k":161,"v":1.2424},{"s":"t","k":161.7,"v":1.2432},{"s":"t","k":165,"v":1.2432},{"s":"t","k":165.5,"v":1.2459},{"s":"t","k":166.7,"v":1.2451},{"s":"t","k":170.8,"v":1.2451},{"s":"t","k":171,"v":1.2446},{"s":"t","k":176.7,"v":1.2446},{"s":"t","k":177,"v":1.2455},{"s":"t","k":181.7,"v":1.2458},{"s":"t","k":182,"v":1.2454},{"s":"t","k":184,"v":1.2454},{"s":"t","k":185,"v":1.2446},{"s":"t","k":186,"v":1.2470},{"s":"t","k":188,"v":1.2482},{"s":"t","k":190,"v":1.2486},{"s":"t","k":193,"v":1.2486},{"s":"t","k":193.5,"v":1.2508},{"s":"t","k":197.5,"v":1.2508},{"s":"t","k":198,"v":1.2499},{"s":"t","k":199,"v":1.2494},{"s":"t","k":203,"v":1.2494},{"s":"t","k":203.5,"v":1.2517},{"s":"t","k":205.8,"v":1.2517},{"s":"t","k":206,"v":1.2551},{"s":"t","k":207.5,"v":1.2554},{"s":"t","k":214,"v":1.2551},{"s":"t","k":215,"v":1.2520},{"s":"t","k":215.5,"v":1.2497},{"s":"t","k":216,"v":1.2482},{"s":"t","k":218.3,"v":1.2482},{"s":"t","k":219,"v":1.2470},{"s":"t","k":220,"v":1.2464},{"s":"t","k":222.5,"v":1.2463},{"s":"t","k":223,"v":1.2446},{"s":"t","k":224,"v":1.2417},{"s":"t","k":225,"v":1.2402},{"s":"t","k":227.5,"v":1.2402},{"s":"t","k":228,"v":1.2417},{"s":"t","k":229,"v":1.2444},{"s":"t","k":231,"v":1.2455},{"s":"t","k":232,"v":1.2453},{"s":"t","k":234,"v":1.2459},{"s":"t","k":234.5,"v":1.2482},{"s":"t","k":237.5,"v":1.2488},{"s":"t","k":242.5,"v":1.2488},{"s":"t","k":243,"v":1.2483},{"s":"t","k":244,"v":1.2479},{"s":"t","k":245,"v":1.2473},{"s":"t","k":247.5,"v":1.2464},{"s":"t","k":256.7,"v":1.2463},{"s":"t","k":257,"v":1.2455},{"s":"t","k":258.3,"v":1.2441},{"s":"t","k":261.7,"v":1.2441},{"s":"t","k":262,"v":1.2423},{"s":"t","k":263.3,"v":1.2402},{"s":"t","k":263.5,"v":1.2382},{"s":"t","k":266.7,"v":1.2382},{"s":"t","k":267,"v":1.2353},{"s":"t","k":268.3,"v":1.2347},{"s":"t","k":270,"v":1.2345},{"s":"t","k":270.5,"v":1.2365},{"s":"t","k":272,"v":1.2367},{"s":"t","k":276.7,"v":1.2367},{"s":"t","k":279,"v":1.2363},{"s":"t","k":280,"v":1.2338},{"s":"t","k":281,"v":1.2325},{"s":"t","k":282,"v":1.2315},{"s":"t","k":283,"v":1.2301},{"s":"t","k":284.5,"v":1.2296},{"s":"t","k":286.7,"v":1.2312},{"s":"t","k":287.5,"v":1.2330},{"s":"t","k":289,"v":1.2343},{"s":"t","k":290,"v":1.2352},{"s":"t","k":292,"v":1.2372},{"s":"t","k":293,"v":1.2382},{"s":"t","k":295,"v":1.2398},{"s":"t","k":296.7,"v":1.2413},{"s":"t","k":297.5,"v":1.2428},{"s":"t","k":300,"v":1.2431},{"s":"t","k":305,"v":1.2431},{"s":"t","k":306,"v":1.2426},
{"s":"j","k":0.8,"v":1.2655},{"s":"j","k":2.5,"v":1.2643},{"s":"j","k":5,"v":1.2642},{"s":"j","k":5.8,"v":1.2611},{"s":"j","k":7.5,"v":1.2602},{"s":"j","k":8.75,"v":1.2600},{"s":"j","k":25,"v":1.2600},{"s":"j","k":26.7,"v":1.2627},{"s":"j","k":28.3,"v":1.2630},{"s":"j","k":29,"v":1.2644},{"s":"j","k":35,"v":1.2644},{"s":"j","k":35.8,"v":1.2649},{"s":"j","k":36.5,"v":1.2681},{"s":"j","k":39,"v":1.2686},{"s":"j","k":44,"v":1.2686},{"s":"j","k":44.2,"v":1.2697},{"s":"j","k":54,"v":1.2697},{"s":"j","k":54.2,"v":1.2740},{"s":"j","k":63,"v":1.2740},{"s":"j","k":63.3,"v":1.2749},{"s":"j","k":77.5,"v":1.2749},{"s":"j","k":78,"v":1.2758},{"s":"j","k":79,"v":1.2769},{"s":"j","k":80,"v":1.2788},{"s":"j","k":80.5,"v":1.2774},{"s":"j","k":82.5,"v":1.2774},{"s":"j","k":84,"v":1.2749},{"s":"j","k":85,"v":1.2734},{"s":"j","k":89,"v":1.2725},{"s":"j","k":101.7,"v":1.2725},{"s":"j","k":102,"v":1.2705},{"s":"j","k":104,"v":1.2681},{"s":"j","k":104.5,"v":1.2675},{"s":"j","k":107.5,"v":1.2675},{"s":"j","k":108,"v":1.2687},{"s":"j","k":114,"v":1.2687},{"s":"j","k":114.5,"v":1.2699},{"s":"j","k":115.8,"v":1.2693},{"s":"j","k":119,"v":1.2661},{"s":"j","k":119.2,"v":1.2657},{"s":"j","k":124,"v":1.2657},{"s":"j","k":124.2,"v":1.2627},{"s":"j","k":129.2,"v":1.2627},{"s":"j","k":129.5,"v":1.2603},{"s":"j","k":140,"v":1.2603},{"s":"j","k":141,"v":1.2564},{"s":"j","k":142,"v":1.2534},{"s":"j","k":146.7,"v":1.2534},{"s":"j","k":147,"v":1.2526},{"s":"j","k":149,"v":1.2514},{"s":"j","k":149.5,"v":1.2490},{"s":"j","k":151.7,"v":1.2470},{"s":"j","k":164.2,"v":1.2468},{"s":"j","k":167.5,"v":1.2446},{"s":"j","k":175.8,"v":1.2446},{"s":"j","k":176,"v":1.2432},{"s":"j","k":180.8,"v":1.2432},{"s":"j","k":181,"v":1.2451},{"s":"j","k":185.8,"v":1.2451},{"s":"j","k":187.5,"v":1.2468},{"s":"j","k":189,"v":1.2486},{"s":"j","k":205,"v":1.2486},{"s":"j","k":205.3,"v":1.2499},{"s":"j","k":211.7,"v":1.2498},{"s":"j","k":212,"v":1.2520},{"s":"j","k":214,"v":1.2520},{"s":"j","k":215,"v":1.2505},{"s":"j","k":216.3,"v":1.2481},{"s":"j","k":232.5,"v":1.2481},{"s":"j","k":233,"v":1.2468},{"s":"j","k":234,"v":1.2468},{"s":"j","k":234.2,"v":1.2464},{"s":"j","k":239,"v":1.2464},{"s":"j","k":240,"v":1.2453},{"s":"j","k":241,"v":1.2445},{"s":"j","k":246.7,"v":1.2445},{"s":"j","k":247,"v":1.2463},{"s":"j","k":256.7,"v":1.2463},{"s":"j","k":257,"v":1.2455},{"s":"j","k":262,"v":1.2435},{"s":"j","k":263,"v":1.2403},{"s":"j","k":265,"v":1.2403},{"s":"j","k":268.3,"v":1.2391},{"s":"j","k":275,"v":1.2391},{"s":"j","k":278,"v":1.2388},{"s":"j","k":280,"v":1.2362},{"s":"j","k":282,"v":1.2356},{"s":"j","k":282.5,"v":1.2352},{"s":"j","k":296.7,"v":1.2352},{"s":"j","k":297,"v":1.2371},{"s":"j","k":306,"v":1.2371},
{"s":"m","k":0.8,"v":1.2727},{"s":"m","k":4.2,"v":1.2716},{"s":"m","k":7.5,"v":1.2696},{"s":"m","k":11.7,"v":1.2670},{"s":"m","k":15.8,"v":1.2650},{"s":"m","k":20,"v":1.2644},{"s":"m","k":24.2,"v":1.2634},{"s":"m","k":28.3,"v":1.2639},{"s":"m","k":32.5,"v":1.2640},{"s":"m","k":36.7,"v":1.2637},{"s":"m","k":40.8,"v":1.2642},{"s":"m","k":45,"v":1.2649},{"s":"m","k":49.2,"v":1.2650},{"s":"m","k":53.3,"v":1.2652},{"s":"m","k":57.5,"v":1.2670},{"s":"m","k":61.7,"v":1.2690},{"s":"m","k":65.8,"v":1.2705},{"s":"m","k":70,"v":1.2719},{"s":"m","k":74.2,"v":1.2728},{"s":"m","k":78.3,"v":1.2734},{"s":"m","k":85,"v":1.2734},{"s":"m","k":89,"v":1.2732},{"s":"m","k":93.3,"v":1.2730},{"s":"m","k":97.5,"v":1.2727},{"s":"m","k":101.7,"v":1.2731},{"s":"m","k":104.2,"v":1.2731},{"s":"m","k":110,"v":1.2719},{"s":"m","k":114.2,"v":1.2714},{"s":"m","k":118.3,"v":1.2696},{"s":"m","k":122.5,"v":1.2684},{"s":"m","k":126.7,"v":1.2664},{"s":"m","k":130.8,"v":1.2649},{"s":"m","k":135,"v":1.2634},{"s":"m","k":139.2,"v":1.2622},{"s":"m","k":143.3,"v":1.2613},{"s":"m","k":147.5,"v":1.2602},{"s":"m","k":151.7,"v":1.2582},{"s":"m","k":155,"v":1.2561},{"s":"m","k":158.3,"v":1.2534},{"s":"m","k":162.5,"v":1.2517},{"s":"m","k":166.7,"v":1.2494},{"s":"m","k":170.8,"v":1.2477},{"s":"m","k":175,"v":1.2470},{"s":"m","k":179.2,"v":1.2463},{"s":"m","k":183.3,"v":1.2461},{"s":"m","k":187.5,"v":1.2459},{"s":"m","k":191.7,"v":1.2457},{"s":"m","k":195.8,"v":1.2454},{"s":"m","k":200,"v":1.2459},{"s":"m","k":204.2,"v":1.2470},{"s":"m","k":208.3,"v":1.2479},{"s":"m","k":212.5,"v":1.2485},{"s":"m","k":214.2,"v":1.2490},{"s":"m","k":217.5,"v":1.2490},{"s":"m","k":220.8,"v":1.2485},{"s":"m","k":225,"v":1.2482},{"s":"m","k":229.2,"v":1.2481},{"s":"m","k":233.3,"v":1.2482},{"s":"m","k":235.8,"v":1.2485},{"s":"m","k":240,"v":1.2482},{"s":"m","k":244.2,"v":1.2479},{"s":"m","k":248.3,"v":1.2476},{"s":"m","k":252.5,"v":1.2470},{"s":"m","k":256.7,"v":1.2461},{"s":"m","k":260.8,"v":1.2446},{"s":"m","k":265,"v":1.2437},{"s":"m","k":269.2,"v":1.2432},{"s":"m","k":273.3,"v":1.2426},{"s":"m","k":277.5,"v":1.2417},{"s":"m","k":281.7,"v":1.2402},{"s":"m","k":285.8,"v":1.2388},{"s":"m","k":290,"v":1.2380},{"s":"m","k":294.2,"v":1.2373},{"s":"m","k":298.3,"v":1.2372},{"s":"m","k":302.5,"v":1.2367},{"s":"m","k":305.8,"v":1.2363}
],
"fib":[
{"t":"100.0","p":1.2875},{"t":"61.8","p":1.2635},{"t":"50.0","p":1.25609},{"t":"38.2","p":1.24867},{"t":"23.6","p":1.2395},{"t":"0.0","p":1.22467}
],
"trend":[{"k":55,"p":1.2875},{"k":308.375,"p":1.241}],
"fibline":[{"k":55,"p":1.2875},{"k":111,"p":1.22467}],
"yticks":[{"p":1.2901},{"p":1.2872},{"p":1.2843},{"p":1.2814},{"p":1.2785},{"p":1.27555},{"p":1.27265},{"p":1.26975},{"p":1.26685},{"p":1.26395},{"p":1.261},{"p":1.2581},{"p":1.2552},{"p":1.2523},{"p":1.2494},{"p":1.2465},{"p":1.24355},{"p":1.24065},{"p":1.23775},{"p":1.23485},{"p":1.23195},{"p":1.229},{"p":1.2261},{"p":1.2232}],
"xticks":[{"k":1,"t":"2 Oct 2014"},{"k":17,"t":"7 Oct 08:00"},{"k":33,"t":"10 Oct 00:00"},{"k":49,"t":"14 Oct 16:00"},{"k":65,"t":"17 Oct 08:00"},{"k":81,"t":"22 Oct 00:00"},{"k":97,"t":"24 Oct 16:00"},{"k":113,"t":"29 Oct 08:00"},{"k":129,"t":"3 Nov 00:00"},{"k":145,"t":"5 Nov 16:00"},{"k":161,"t":"10 Nov 08:00"},{"k":177,"t":"13 Nov 00:00"},{"k":193,"t":"17 Nov 16:00"},{"k":209,"t":"20 Nov 08:00"},{"k":225,"t":"25 Nov 00:00"},{"k":241,"t":"27 Nov 16:00"},{"k":257,"t":"2 Dec 08:00"},{"k":273,"t":"5 Dec 00:00"},{"k":289,"t":"9 Dec 16:00"},{"k":305,"t":"12 Dec 08:00"}]
},
"layer":[
{"data":{"name":"kumo"},
 "mark":{"type":"rule","strokeWidth":1,"strokeDash":[3,2]},
 "encoding":{
  "x":{"field":"k","type":"quantitative","scale":{"domain":[0.625,308.375],"nice":false,"zero":false,"padding":0},"axis":null},
  "y":{"field":"a","type":"quantitative","scale":{"domain":[1.2232,1.29097],"nice":false,"zero":false},"axis":null},
  "y2":{"field":"b"},
  "color":{"condition":{"test":"datum.b > datum.a","value":"#D8BFD8"},"value":"#F4A460"}
 }},
{"data":{"name":"kumo"},"mark":{"type":"line","color":"#F4A460","strokeWidth":1,"strokeDash":[3,2]},
 "encoding":{"x":{"field":"k","type":"quantitative","axis":null},"y":{"field":"a","type":"quantitative","axis":null}}},
{"data":{"name":"kumo"},"mark":{"type":"line","color":"#D8BFD8","strokeWidth":1,"strokeDash":[3,2]},
 "encoding":{"x":{"field":"k","type":"quantitative","axis":null},"y":{"field":"b","type":"quantitative","axis":null}}},
{"data":{"values":[{}]},"mark":{"type":"rule","color":"#C0C0C0","strokeWidth":1},
 "encoding":{"y":{"datum":1.24568,"type":"quantitative","axis":null}}},
{"data":{"values":[{}]},"mark":{"type":"rule","color":"#FF0000","strokeWidth":1,"strokeDash":[3,3]},
 "encoding":{"y":{"datum":1.22467,"type":"quantitative","axis":null}}},
{"data":{"values":[{}]},"mark":{"type":"rule","color":"#FFFFFF","strokeWidth":1},
 "encoding":{"x":{"datum":0.75,"type":"quantitative","axis":null}}},
{"data":{"values":[{}]},"mark":{"type":"rule","color":"#FFFFFF","strokeWidth":1},
 "encoding":{"x":{"datum":308.25,"type":"quantitative","axis":null}}},
{"data":{"values":[{}]},"mark":{"type":"rule","color":"#FFFFFF","strokeWidth":1},
 "encoding":{"y":{"datum":1.22324,"type":"quantitative","axis":null}}},
{"data":{"name":"yticks"},"mark":{"type":"rule","color":"#FFFFFF","strokeWidth":1},
 "encoding":{"x":{"datum":308.375,"type":"quantitative","axis":null},"x2":{"datum":309.375},"y":{"field":"p","type":"quantitative","axis":null}}},
{"data":{"name":"yticks"},"mark":{"type":"text","color":"#FFFFFF","fontSize":9,"font":"Liberation Sans","align":"left","baseline":"middle"},
 "encoding":{"x":{"datum":309.875,"type":"quantitative","axis":null},"y":{"field":"p","type":"quantitative","axis":null},"text":{"field":"p","type":"quantitative","format":".5f"}}},
{"data":{"name":"xticks"},"mark":{"type":"rule","color":"#FFFFFF","strokeWidth":1},
 "encoding":{"x":{"field":"k","type":"quantitative","axis":null},"y":{"datum":1.2232,"type":"quantitative","axis":null},"y2":{"datum":1.22285}}},
{"data":{"name":"xticks"},"mark":{"type":"text","color":"#FFFFFF","fontSize":9,"font":"Liberation Sans","align":"left","baseline":"top","dx":0,"dy":6},
 "encoding":{"x":{"field":"k","type":"quantitative","axis":null},"y":{"datum":1.2232,"type":"quantitative","axis":null},"text":{"field":"t"}}},
{"data":{"name":"bars"},"mark":{"type":"rule","color":"#00FF00","strokeWidth":1},
 "encoding":{"x":{"field":"k","type":"quantitative","axis":null},"y":{"field":"l","type":"quantitative","axis":null},"y2":{"field":"h"}}},
{"data":{"name":"bars"},"mark":{"type":"bar","size":2,"fill":"#FFFFFF","stroke":"#00FF00","strokeWidth":1},
 "encoding":{"x":{"field":"k","type":"quantitative","axis":null},"y":{"field":"o","type":"quantitative","axis":null},"y2":{"field":"c"}}},
{"data":{"name":"lines"},"mark":{"type":"line","strokeWidth":1},
 "encoding":{"x":{"field":"k","type":"quantitative","axis":null},"y":{"field":"v","type":"quantitative","axis":null},
  "color":{"field":"s","type":"nominal","scale":{"domain":["m","j","t"],"range":["#FF00FF","#0000FF","#FF0000"]},"legend":null}}},
{"data":{"name":"bars"},"mark":{"type":"line","color":"#32CD32","strokeWidth":1,"clip":true,"xOffset":-104},
 "encoding":{"x":{"field":"k","type":"quantitative","axis":null},"y":{"field":"c","type":"quantitative","axis":null}}},
{"data":{"name":"fib"},"mark":{"type":"rule","color":"#FFFF00","strokeWidth":1,"strokeDash":[4,3]},
 "encoding":{"x":{"datum":55,"type":"quantitative","axis":null},"x2":{"datum":308.375},"y":{"field":"p","type":"quantitative","axis":null}}},
{"data":{"name":"fib"},"mark":{"type":"text","color":"#FFFF00","fontSize":9,"font":"Liberation Sans","align":"right","baseline":"middle","dx":-2,"dy":-6},
 "encoding":{"x":{"datum":308.375,"type":"quantitative","axis":null},"y":{"field":"p","type":"quantitative","axis":null},"text":{"field":"t"}}},
{"data":{"name":"trend"},"mark":{"type":"line","color":"#FF0000","strokeWidth":1},
 "encoding":{"x":{"field":"k","type":"quantitative","axis":null},"y":{"field":"p","type":"quantitative","axis":null}}},
{"data":{"name":"fibline"},"mark":{"type":"line","color":"#FF0000","strokeWidth":1,"strokeDash":[2,3]},
 "encoding":{"x":{"field":"k","type":"quantitative","axis":null},"y":{"field":"p","type":"quantitative","axis":null}}},
{"data":{"values":[{}]},"mark":{"type":"rect","fill":"#FFFFFF"},
 "encoding":{"x":{"datum":308.5,"type":"quantitative","axis":null},"x2":{"datum":318.5},"y":{"datum":1.24632,"type":"quantitative","axis":null},"y2":{"datum":1.24506}}},
{"data":{"values":[{}]},"mark":{"type":"text","text":"1.24568","color":"#000000","fontSize":9,"font":"Liberation Sans","align":"left","baseline":"middle"},
 "encoding":{"x":{"datum":309.9,"type":"quantitative","axis":null},"y":{"datum":1.24568,"type":"quantitative","axis":null}}},
{"data":{"values":[{}]},"mark":{"type":"rect","fill":"#FF0000"},
 "encoding":{"x":{"datum":308.5,"type":"quantitative","axis":null},"x2":{"datum":318.5},"y":{"datum":1.22531,"type":"quantitative","axis":null},"y2":{"datum":1.22405}}},
{"data":{"values":[{}]},"mark":{"type":"text","text":"1.22467","color":"#800000","fontSize":9,"font":"Liberation Sans","align":"left","baseline":"middle"},
 "encoding":{"x":{"datum":309.9,"type":"quantitative","axis":null},"y":{"datum":1.22467,"type":"quantitative","axis":null}}},
{"data":{"values":[{}]},"mark":{"type":"text","text":"▼","color":"#FFFFFF","fontSize":8,"font":"DejaVu Sans","align":"center","baseline":"middle"},
 "encoding":{"x":{"datum":2.4,"type":"quantitative","axis":null},"y":{"datum":1.29009,"type":"quantitative","axis":null}}},
{"data":{"values":[{}]},"mark":{"type":"text","text":"EURUSD,H4  1.24251 1.24591 1.24236 1.24568","color":"#FFFFFF","fontSize":9.5,"font":"Liberation Sans","align":"left","baseline":"middle"},
 "encoding":{"x":{"datum":4.6,"type":"quantitative","axis":null},"y":{"datum":1.29009,"type":"quantitative","axis":null}}},
{"data":{"values":[{}]},"mark":{"type":"text","text":"عرب فوركس","color":"#FFFFFF","fontSize":26,"font":"DejaVu Sans","align":"center","baseline":"middle"},
 "encoding":{"x":{"datum":48.9,"type":"quantitative","axis":null},"y":{"datum":1.23102,"type":"quantitative","axis":null}}}
]
}
